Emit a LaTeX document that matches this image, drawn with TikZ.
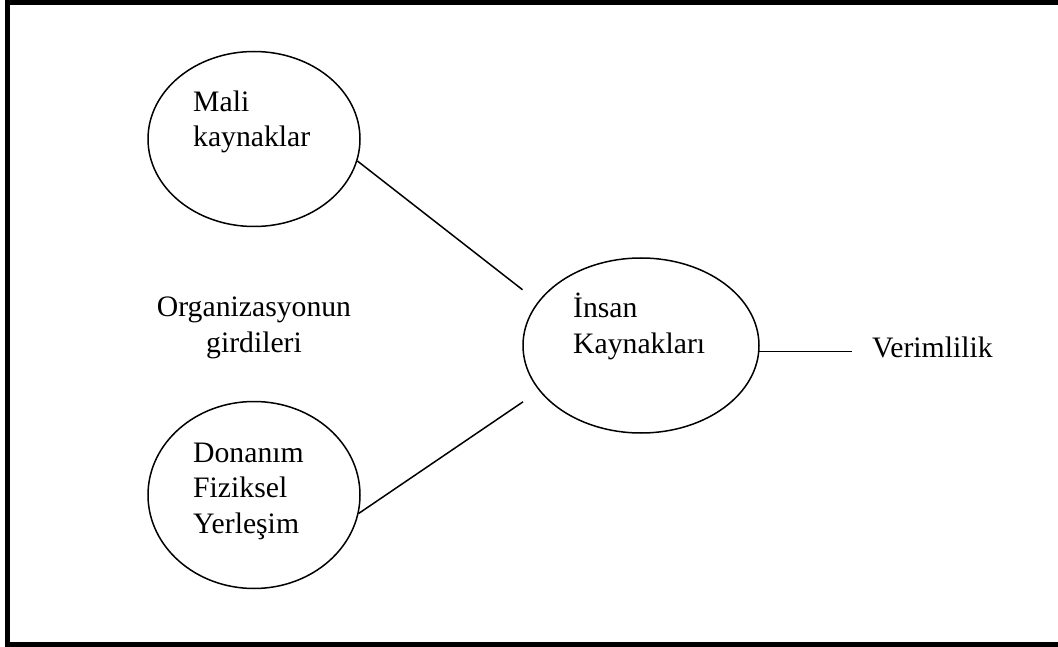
\documentclass[tikz,border=0pt]{standalone}
\usepackage{fontspec}
\setmainfont{Liberation Serif}
\usetikzlibrary{shapes.geometric}

\begin{document}
\begin{tikzpicture}[
			x=1pt,y=-1pt,
			every node/.style={font=\fontsize{29.7}{35.5}\selectfont},
			oval/.style={draw,ellipse,line width=1.5pt,inner sep=0pt},
			lbl/.style={inner sep=0pt,align=left,anchor=base west},
			conn/.style={line width=1.5pt}
			]
			\useasboundingbox (0,0) rectangle (1058,647);
			\clip (0,0) rectangle (1058,647);
			\draw[line width=4.5pt] (7.5,2.5) rectangle (1075,644.5);
			% ovals
			\node[oval,minimum width=212pt,minimum height=175pt] (mali) at (254,139) {};
			\node[oval,minimum width=212pt,minimum height=187pt] (donanim) at (254,495) {};
			\node[oval,minimum width=236pt,minimum height=175pt] (insan) at (641,345.5) {};
			% texts (base = last line)
			\node[lbl] (malitxt) at (193,147) {Mali\\kaynaklar};
			\node[lbl] (donanimtxt) at (193,533) {Donanım\\Fiziksel\\Yerleşim};
			\node[lbl] (insantxt) at (573,353.3) {İnsan\\Kaynakları};
			\node[inner sep=0pt,align=center,anchor=base] (girdi) at (254,352) {Organizasyonun\\girdileri};
			\node[lbl] (verim) at (872,357) {Verimlilik};
			% lines
			\draw[conn,shorten >=19.5pt] (mali.-12.5)--(insan.157);
			\draw[conn,shorten >=19.5pt] (donanim.-10)--(insan.-156.4);
			\draw[conn,shorten >=20pt] (insan.-3.8)--(insan.-3.8 -| verim.base west);
		\end{tikzpicture}
\end{document}
